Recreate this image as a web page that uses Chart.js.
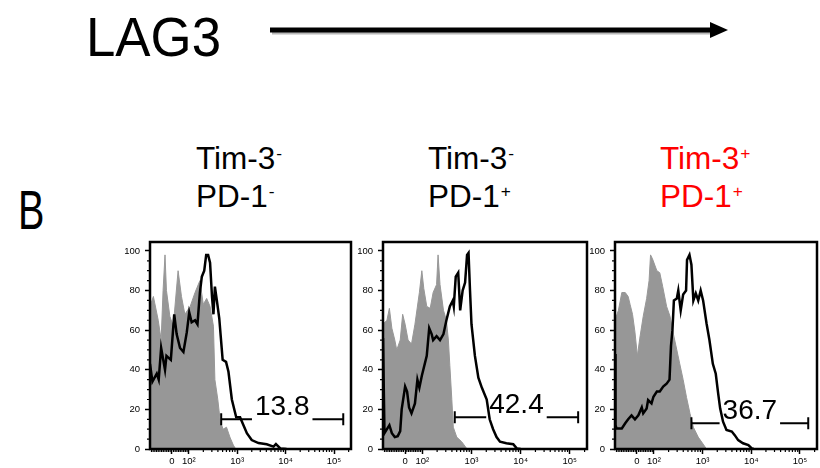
<!DOCTYPE html>
<html>
<head>
<meta charset="utf-8">
<script src="https://cdn.jsdelivr.net/npm/chart.js@4.4.1/dist/chart.umd.min.js"></script>
<style>
  html, body { margin: 0; padding: 0; background: #fff; }
  body { width: 820px; height: 468px; position: relative; overflow: hidden;
         font-family: "Liberation Sans", Arial, sans-serif; }
  .lbl { position: absolute; white-space: nowrap; line-height: 1; color: #000; }
  .lbl sup { font-size: 0.55em; position: relative; top: -0.55em; vertical-align: baseline; margin-left: 1px; }
  canvas { position: absolute; }
</style>
</head>
<body>
<div class="lbl" style="left:86px; top:10px; font-size:55px; transform:scaleX(0.96); transform-origin:left;">LAG3</div>
<svg style="position:absolute; left:0; top:0;" width="820" height="70">
  <line x1="272" y1="33" x2="714" y2="33" stroke="#b8b8b8" stroke-width="3"/>
  <line x1="270" y1="30" x2="714" y2="30" stroke="#000" stroke-width="5"/>
  <polygon points="710,22 728,30 710,38" fill="#000"/>
</svg>
<div class="lbl" style="left:18px; top:183px; font-size:55px; transform:scaleX(0.72); transform-origin:left;">B</div>
<div id="heads"></div>
<canvas id="p0" width="244" height="242" style="left:110px; top:226px;"></canvas>
<canvas id="p1" width="247" height="242" style="left:343px; top:226px;"></canvas>
<canvas id="p2" width="245" height="242" style="left:575px; top:226px;"></canvas>
<script>
// group headers
const groupTop = ['Tim-3', 'Tim-3', 'Tim-3'];
const groupTopSign = ['-', '-', '+'];
const groupBottom = ['PD-1', 'PD-1', 'PD-1'];
const groupBottomSign = ['-', '+', '+'];
const groupColor = ['#000', '#000', '#ff0000'];

// axis ticks (x in display units: log10 of intensity, 0 sits at 1.65)
const xTickValues = [1.65, 2, 3, 4, 5];
const xTickLabels = ['0', '10²', '10³', '10⁴', '10⁵'];
const yTickValues = [0, 20, 40, 60, 80, 100];

// panel 1: Tim-3- PD-1-
const ctrl1X = [1.20, 1.27, 1.37, 1.43, 1.47, 1.51, 1.54, 1.61, 1.68, 1.78, 1.85, 1.92, 2.03, 2.13, 2.23, 2.30, 2.37, 2.44, 2.51, 2.54, 2.60, 2.65, 2.71, 2.78, 2.85, 2.92, 2.97];
const ctrl1Y = [72, 77, 65, 55, 80, 98, 80, 67, 62, 90, 77, 68, 72, 79, 85, 73, 76, 72, 62, 35, 25, 14, 10, 11, 6, 2, 0];
const lag1X = [1.20, 1.25, 1.34, 1.38, 1.43, 1.51, 1.54, 1.63, 1.70, 1.75, 1.82, 1.89, 1.96, 2.01, 2.06, 2.13, 2.18, 2.23, 2.27, 2.32, 2.36, 2.40, 2.44, 2.48, 2.51, 2.54, 2.58, 2.63, 2.66, 2.70, 2.77, 2.82, 2.89, 2.98, 3.06, 3.13, 3.20, 3.30, 3.44, 3.61, 3.75, 3.80, 3.89, 4.02];
const lag1Y = [43, 34, 38, 35, 51, 40, 47, 45, 68, 58, 51, 49, 59, 69, 64, 65, 63, 79, 87, 90, 98, 98, 94, 77, 68, 82, 75, 66, 57, 45, 44, 39, 25, 16, 16, 12, 8, 4.5, 3, 2.4, 1.2, 2.5, 0.3, 0];

// panel 2: Tim-3- PD-1+
const ctrl2X = [1.20, 1.28, 1.33, 1.38, 1.44, 1.48, 1.55, 1.60, 1.65, 1.71, 1.78, 1.85, 1.94, 1.99, 2.03, 2.09, 2.16, 2.22, 2.29, 2.32, 2.36, 2.43, 2.49, 2.53, 2.56, 2.60, 2.63, 2.70, 2.80, 2.91];
const ctrl2Y = [63, 65, 71, 61, 55, 50, 55, 68, 63, 55, 53, 63, 79, 90, 81, 72, 71, 79, 83, 98, 83, 70, 65, 55, 42, 25, 11, 6, 3.7, 0];
const lag2X = [1.20, 1.23, 1.28, 1.33, 1.38, 1.44, 1.50, 1.55, 1.58, 1.65, 1.69, 1.73, 1.78, 1.85, 1.90, 1.94, 1.99, 2.02, 2.09, 2.14, 2.19, 2.22, 2.29, 2.36, 2.43, 2.49, 2.56, 2.62, 2.64, 2.68, 2.73, 2.77, 2.82, 2.87, 2.91, 2.94, 2.97, 3.00, 3.07, 3.14, 3.21, 3.31, 3.37, 3.44, 3.51, 3.58, 3.71, 3.85, 3.92, 4.00];
const lag2Y = [56, 8, 10, 12, 8, 6, 6.5, 9, 20, 31.5, 29, 21, 18, 23, 35, 31, 37, 40, 47, 61, 58, 55, 57, 55, 58, 65, 72, 75, 72, 87, 89, 70, 80, 84, 98, 99, 80, 63, 47, 36, 31, 25, 15, 10, 6, 3.7, 2.9, 2.4, 0.3, 0];

// panel 3: Tim-3+ PD-1+
const ctrl3X = [1.20, 1.27, 1.34, 1.41, 1.47, 1.51, 1.56, 1.61, 1.66, 1.71, 1.78, 1.85, 1.90, 1.93, 1.97, 2.06, 2.12, 2.18, 2.26, 2.33, 2.40, 2.47, 2.53, 2.60, 2.67, 2.74, 2.81, 2.91, 3.01, 3.08];
const ctrl3Y = [65, 70, 79, 79, 77, 73, 68, 59, 47, 56, 67, 76, 85, 98, 96, 90, 89, 82, 72, 67, 58, 50, 43, 35, 26, 18, 11, 6, 2.5, 0];
const lag3X = [1.20, 1.21, 1.23, 1.34, 1.41, 1.47, 1.54, 1.61, 1.68, 1.75, 1.78, 1.85, 1.88, 1.95, 1.99, 2.06, 2.12, 2.19, 2.26, 2.32, 2.35, 2.38, 2.41, 2.47, 2.50, 2.55, 2.60, 2.66, 2.68, 2.73, 2.77, 2.81, 2.86, 2.91, 2.96, 3.01, 3.08, 3.14, 3.21, 3.27, 3.32, 3.36, 3.42, 3.49, 3.60, 3.66, 3.73, 3.83, 3.94, 4.01, 4.05];
const lag3Y = [48, 12, 10.4, 10.4, 13, 15, 17, 15, 17, 21, 18, 20.5, 24.7, 23, 26.4, 29, 29, 31.5, 33, 35, 52, 60, 75, 76, 80, 70, 78, 80, 95.5, 98, 93, 75, 78.6, 75, 80, 75, 63.5, 55, 43, 38, 28, 20.5, 13.8, 9.6, 8.8, 7, 4.5, 2.9, 2, 0.3, 0];

// gates
const gateLo = [2.67, 2.66, 2.77];
const gateHi = [5.19, 5.17, 5.17];
const gateLevel = [15, 16, 13];
const gatePct = ['13.8', '42.4', '36.7'];

const ctrlX = [ctrl1X, ctrl2X, ctrl3X], ctrlY = [ctrl1Y, ctrl2Y, ctrl3Y];
const lagX = [lag1X, lag2X, lag3X], lagY = [lag1Y, lag2Y, lag3Y];

// headers
const headLeft = [196, 428, 660];
let html = '';
for (let i = 0; i < 3; i++) {
    html += '<div class="lbl" style="left:' + headLeft[i] + 'px; top:143px; font-size:31.5px; color:' + groupColor[i] + '">' +
        groupTop[i] + '<sup>' + groupTopSign[i] + '</sup></div>';
    html += '<div class="lbl" style="left:' + headLeft[i] + 'px; top:181px; font-size:31.5px; color:' + groupColor[i] + '">' +
        groupBottom[i] + '<sup>' + groupBottomSign[i] + '</sup></div>';
}
document.getElementById('heads').innerHTML = html;

// minor ticks on the biexponential axis
function toDisplay(v) {
    return v >= 100 ? Math.log10(v) : 1.65 + 0.35 * v / 100;
}
const xMinor = [];
for (let v = -120; v < 100; v += 10) if (v !== 0) xMinor.push(toDisplay(v));
[100, 1000, 10000, 100000].forEach(d => {
    for (let m = 2; m <= 9; m++) xMinor.push(toDisplay(m * d));
});

const panelDecor = {
    id: 'panelDecor',
    afterDatasetsDraw(chart, args, opts) {
        const { ctx, chartArea: a, scales: { x, y } } = chart;
        ctx.save();
        // gate bar with percentage
        const yy = y.getPixelForValue(opts.level);
        const x0 = x.getPixelForValue(opts.lo), x1 = x.getPixelForValue(opts.hi);
        ctx.font = '28px "Liberation Sans", Arial, sans-serif';
        const tw = ctx.measureText(opts.text).width;
        const cx = (x0 + x1) / 2;
        ctx.strokeStyle = '#000';
        ctx.lineWidth = 2;
        ctx.beginPath();
        ctx.moveTo(x0, yy); ctx.lineTo(cx - tw / 2 - 3, yy);
        ctx.moveTo(cx + tw / 2 + 3, yy); ctx.lineTo(x1, yy);
        ctx.moveTo(x0, yy - 6); ctx.lineTo(x0, yy + 6);
        ctx.moveTo(x1, yy - 6); ctx.lineTo(x1, yy + 6);
        ctx.stroke();
        ctx.fillStyle = '#000';
        ctx.textAlign = 'center';
        ctx.textBaseline = 'alphabetic';
        ctx.fillText(opts.text, cx, yy - 4);
        // minor ticks
        ctx.lineWidth = 1.2;
        ctx.beginPath();
        for (let v = 5; v <= 100; v += 5) {
            if (v % 20 === 0) continue;
            const py = y.getPixelForValue(v);
            ctx.moveTo(a.left, py); ctx.lineTo(a.left - 3, py);
        }
        xMinor.forEach(u => {
            if (u < x.min || u > x.max) return;
            const px = x.getPixelForValue(u);
            ctx.moveTo(px, a.bottom); ctx.lineTo(px, a.bottom + 3);
        });
        ctx.stroke();
        // frame
        ctx.lineWidth = 2.5;
        ctx.strokeRect(a.left, a.top, a.right - a.left, a.bottom - a.top);
        ctx.restore();
    }
};

function pts(xs, ys) {
    return xs.map((v, i) => ({ x: v, y: ys[i] }));
}

for (let i = 0; i < 3; i++) {
    new Chart(document.getElementById('p' + i), {
        type: 'line',
        data: {
            datasets: [
                {
                    data: pts(lagX[i], lagY[i]),
                    borderColor: '#000',
                    borderWidth: 2.5,
                    fill: false,
                    pointRadius: 0,
                    tension: 0,
                    order: 1
                },
                {
                    data: pts(ctrlX[i], ctrlY[i]),
                    borderColor: '#979797',
                    backgroundColor: '#979797',
                    borderWidth: 1,
                    fill: 'origin',
                    pointRadius: 0,
                    tension: 0,
                    order: 2
                }
            ]
        },
        options: {
            responsive: false,
            animation: false,
            devicePixelRatio: 1,
            layout: { padding: { top: 16, right: 3, left: 0, bottom: 0 } },
            plugins: {
                legend: { display: false },
                tooltip: { enabled: false },
                panelDecor: { lo: gateLo[i], hi: gateHi[i], level: gateLevel[i], text: gatePct[i] }
            },
            scales: {
                x: {
                    type: 'linear',
                    min: 1.2,
                    max: 5.35,
                    afterBuildTicks: s => { s.ticks = xTickValues.map(v => ({ value: v })); },
                    afterFit: s => { s.height = 19; },
                    ticks: {
                        callback: (v, idx) => xTickLabels[idx],
                        color: '#000',
                        font: { size: 9.5, family: '"Liberation Sans", Arial' },
                        maxRotation: 0,
                        autoSkip: false,
                        padding: 2
                    },
                    grid: { drawOnChartArea: false, tickLength: 5, tickWidth: 1.5, tickColor: '#000' },
                    border: { display: false }
                },
                y: {
                    min: 0,
                    max: 104.5,
                    afterBuildTicks: s => { s.ticks = yTickValues.map(v => ({ value: v })); },
                    afterFit: s => { s.width = 40; },
                    ticks: {
                        color: '#000',
                        font: { size: 9.5, family: '"Liberation Sans", Arial' },
                        padding: 5
                    },
                    grid: { drawOnChartArea: false, tickLength: 5, tickWidth: 1.5, tickColor: '#000' },
                    border: { display: false }
                }
            }
        },
        plugins: [panelDecor]
    });
}
</script>
</body>
</html>
